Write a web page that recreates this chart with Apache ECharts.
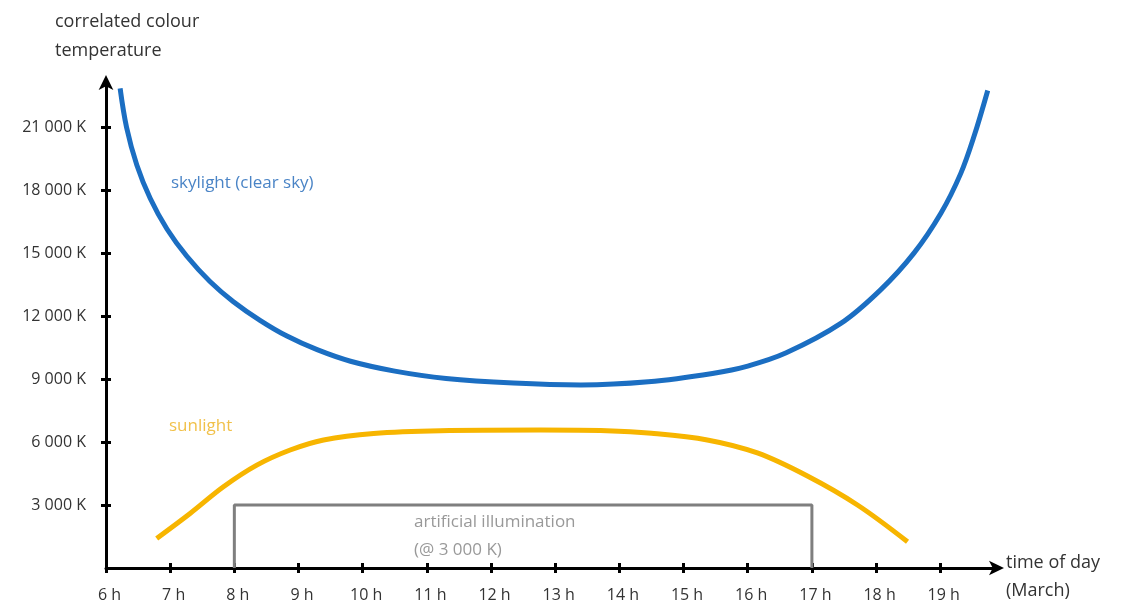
<!DOCTYPE html>
<html>
<head>
<meta charset="utf-8">
<script src="https://cdn.jsdelivr.net/npm/echarts@6/dist/echarts.min.js"></script>
<style>html,body{margin:0;padding:0;background:#fff}#c{width:1126px;height:610px}</style>
</head>
<body>
<div id="c"></div>
<script>
// ---- data ----
const hourTicks = [6, 7, 8, 9, 10, 11, 12, 13, 14, 15, 16, 17, 18, 19];
const tempTicks = [3000, 6000, 9000, 12000, 15000, 18000, 21000];

const skyHours = [6.22, 6.32, 6.48, 6.69, 6.95, 7.26, 7.62, 7.98, 8.40, 8.82, 9.29, 9.81, 10.5, 11.3, 12.35, 13.4, 14.45, 15.45, 16.0, 16.6, 17.45, 18.07, 18.59, 19.01, 19.32, 19.53, 19.74];
const skyTemp  = [22850, 21000, 19200, 17600, 16150, 14850, 13650, 12700, 11800, 11050, 10400, 9850, 9380, 9030, 8810, 8720, 8870, 9270, 9620, 10250, 11650, 13250, 15000, 16900, 18800, 20600, 22750];

const sunHours = [6.79, 7.31, 7.83, 8.35, 8.87, 9.39, 10.17, 11.21, 12.77, 13.8, 14.5, 15.37, 16.15, 16.93, 17.71, 18.49];
const sunTemp  = [1410, 2600, 3870, 4900, 5620, 6100, 6410, 6540, 6570, 6540, 6420, 6100, 5480, 4380, 3000, 1250];

const artHours = [8, 8, 17, 17];
const artTemp  = [0, 3000, 3000, 0];

const zip = (a, b) => a.map((v, i) => [v, b[i]]);
const fmtK = v => String(v).replace(/\B(?=(\d{3})+(?!\d))/g, ' ') + ' K';

const FONT = 'Open Sans';
const chart = echarts.init(document.getElementById('c'), null, {renderer: 'canvas'});

const baseX = {
  type: 'value', min: 6, max: 19.9, gridIndex: 0, position: 'bottom',
  splitLine: {show: false}
};
const baseY = {
  type: 'value', min: 0, max: 23200, gridIndex: 0, position: 'left',
  splitLine: {show: false}
};

chart.setOption({
  animation: false,
  backgroundColor: '#ffffff',
  grid: {left: 106, right: 128, top: 81, bottom: 42},
  xAxis: [
    Object.assign({}, baseX, {
      axisLine: {show: true, lineStyle: {color: '#000', width: 3}, symbol: ['none', 'arrow'], symbolSize: [11, 15], symbolOffset: [0, 6]},
      axisTick: {show: true, inside: false, length: 5, lineStyle: {color: '#000', width: 3}, customValues: hourTicks},
      axisLabel: {show: true, margin: 19, fontFamily: FONT, fontSize: 16, color: '#333', padding: [0, 0, 0, 7], customValues: hourTicks, formatter: v => v + ' h'}
    }),
    Object.assign({}, baseX, {
      axisLine: {show: false},
      axisTick: {show: true, inside: true, length: 5, lineStyle: {color: '#000', width: 3}, customValues: hourTicks},
      axisLabel: {show: false}
    })
  ],
  yAxis: [
    Object.assign({}, baseY, {
      axisLine: {show: true, lineStyle: {color: '#000', width: 3}, symbol: ['none', 'arrow'], symbolSize: [11, 15], symbolOffset: [0, 6]},
      axisTick: {show: true, inside: false, length: 5, lineStyle: {color: '#000', width: 3}, customValues: tempTicks},
      axisLabel: {show: true, margin: 20, fontFamily: FONT, fontSize: 16, color: '#333', customValues: tempTicks, formatter: fmtK}
    }),
    Object.assign({}, baseY, {
      axisLine: {show: false},
      axisTick: {show: true, inside: true, length: 5, lineStyle: {color: '#000', width: 3}, customValues: tempTicks},
      axisLabel: {show: false}
    })
  ],
  series: [
    {
      name: 'artificial illumination', type: 'line', data: zip(artHours, artTemp),
      showSymbol: false, lineStyle: {color: '#7f7f7f', width: 3}, z: 3
    },
    {
      name: 'sunlight', type: 'line', smooth: 0.35, data: zip(sunHours, sunTemp),
      showSymbol: false, lineStyle: {color: '#f7b500', width: 5, cap: 'butt'}, z: 4
    },
    {
      name: 'skylight (clear sky)', type: 'line', smooth: 0.35, data: zip(skyHours, skyTemp),
      showSymbol: false, lineStyle: {color: '#1b6ec2', width: 5, cap: 'butt'}, z: 4
    }
  ],
  graphic: [
    {type: 'text', left: 55, top: 7, style: {text: 'correlated colour\ntemperature', font: '18px "Open Sans"', fill: '#333', lineHeight: 29}},
    {type: 'text', left: 1006, top: 549, style: {text: 'time of day\n(March)', font: '18px "Open Sans"', fill: '#333', lineHeight: 28}},
    {type: 'text', left: 171, top: 175, style: {text: 'skylight (clear sky)', font: '17px "Open Sans"', fill: '#4a84c6'}},
    {type: 'text', left: 169, top: 418, style: {text: 'sunlight', font: '17px "Open Sans"', fill: '#f1c14a'}},
    {type: 'text', left: 414, top: 508, style: {text: 'artificial illumination\n(@ 3 000 K)', font: '17px "Open Sans"', fill: '#999', lineHeight: 28}}
  ]
});
</script>
</body>
</html>
